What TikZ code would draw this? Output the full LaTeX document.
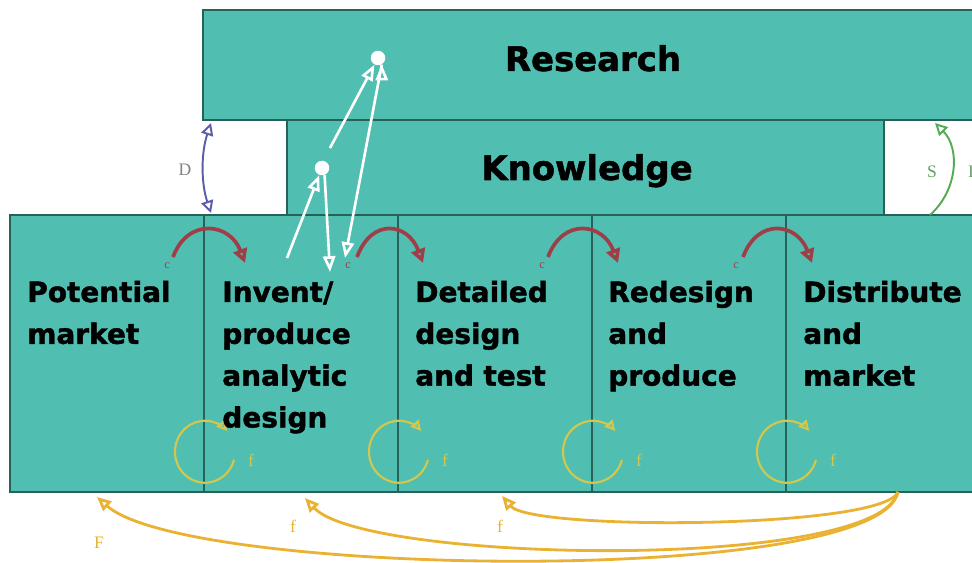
\documentclass[tikz,border=0pt]{standalone}
\usepackage{fontspec}
\setmainfont{DejaVu Sans}[BoldFeatures={FakeBold=1.5}]
\newfontfamily\markfont{Liberation Serif}
\usepackage{tikz}
\usetikzlibrary{arrows,arrows.meta}
\definecolor{cellfill}{RGB}{80,190,177}
\definecolor{cellline}{RGB}{38,98,90}
\definecolor{chainred}{RGB}{160,62,72}
\definecolor{loopyellow}{RGB}{210,200,78}
\definecolor{fbgold}{RGB}{234,178,50}
\definecolor{dblue}{RGB}{92,92,170}
\definecolor{sgreen}{RGB}{84,172,84}
\definecolor{markgray}{RGB}{130,130,130}

\begin{document}
\begin{tikzpicture}[x=0.02cm, y=-0.02cm,
	box/.style={fill=cellfill, draw=cellline, line width=1.1pt},
	stage/.style={anchor=base west, inner sep=0, text width=3.6cm, align=left, font=\bfseries\fontsize{15.9}{23.8}\selectfont},
	heading/.style={anchor=base, inner sep=0, font=\bfseries\fontsize{19.3}{23}\selectfont},
	tag/.style={inner sep=0, font=\markfont\fontsize{10}{11}\selectfont},
	ctag/.style={inner sep=0, text=chainred, font=\markfont\fontsize{7}{8}\selectfont},
	chain/.style={draw=chainred, line width=2.1pt, -{Triangle[open, length=8pt, width=8pt]}},
	fbloop/.style={draw=loopyellow, line width=1.2pt, -{Triangle[open, length=6pt, width=6pt]}},
	feedback/.style={draw=fbgold, line width=1.6pt, -{Triangle[open, length=8pt, width=7pt]}},
	kr/.style={draw=white, line width=1.5pt, -{Triangle[open, length=9pt, width=7pt]}},
	dot/.style={circle, fill=white, inner sep=0, minimum size=0.29cm}
]
\useasboundingbox (0,0) rectangle (972,563);

% blocks
\draw[box] (203,10) rectangle (990,120);
\draw[box] (287,120) rectangle (884,215);
\draw[box] (10,215) rectangle (990,492);
\draw[cellline, line width=0.8pt] (204,215) -- (204,492) (398,215) -- (398,492)
	(592,215) -- (592,492) (786,215) -- (786,492);

\node[heading] (research) at (593,71) {Research};
\node[heading] (knowledge) at (587,180) {Knowledge};

% feedback loops
\coordinate (l1) at (205,452);
\coordinate (l2) at (399,452);
\coordinate (l3) at (593,452);
\coordinate (l4) at (787,452);
\draw[fbloop] (l1) ++(15:30) arc[start angle=15, end angle=318, x radius=30, y radius=31];
\draw[fbloop] (l2) ++(15:30) arc[start angle=15, end angle=318, x radius=30, y radius=31];
\draw[fbloop] (l3) ++(15:30) arc[start angle=15, end angle=318, x radius=30, y radius=31];
\draw[fbloop] (l4) ++(15:30) arc[start angle=15, end angle=318, x radius=30, y radius=31];
\node[tag, text=loopyellow] at (251,460) {f};
\node[tag, text=loopyellow] at (445,460) {f};
\node[tag, text=loopyellow] at (639,460) {f};
\node[tag, text=loopyellow] at (833,460) {f};

\node[stage] (market) at (27,302) {Potential\\market};
\node[stage] (invent) at (222,302) {Invent/\\produce\\analytic\\design};
\node[stage] (detail) at (415,302) {Detailed\\design\\and test};
\node[stage] (redesign) at (608,302) {Redesign\\and\\produce};
\node[stage] (distrib) at (803,302) {Distribute\\and\\market};

% central chain
\coordinate (c1a) at (173,257); \coordinate (c1b) at (245,263);
\coordinate (c2a) at (357,257); \coordinate (c2b) at (423,263);
\coordinate (c3a) at (548,257); \coordinate (c3b) at (618,263);
\coordinate (c4a) at (743,257); \coordinate (c4b) at (812,263);
\draw[chain] (c1a) .. controls +(15,-40) and +(-15,-40) .. (c1b);
\draw[chain] (c2a) .. controls +(15,-40) and +(-15,-40) .. (c2b);
\draw[chain] (c3a) .. controls +(15,-40) and +(-15,-40) .. (c3b);
\draw[chain] (c4a) .. controls +(15,-40) and +(-15,-40) .. (c4b);
\node[ctag] at (167,266) {c};
\node[ctag] at (348,266) {c};
\node[ctag] at (542,266) {c};
\node[ctag] at (736,266) {c};

% links to knowledge and research
\node[dot] (kdot) at (322,168) {};
\node[dot] (rdot) at (378,58) {};
\coordinate (w1) at (287,258);
\coordinate (w2) at (330,272);
\coordinate (w3) at (330,148);
\coordinate (w4) at (345,258);
\path[kr]
(w1) edge (kdot)
(kdot.-70) edge (w2)
(w3) edge (rdot)
(rdot.-60) edge (w4);

% D and S
\coordinate (d1) at (211,123);
\coordinate (d2) at (211,213);
\draw[draw=dblue, line width=1.1pt, {Triangle[open, length=7pt, width=7pt]}-{Triangle[open, length=7pt, width=7pt]}]
	(d1) .. controls +(-10,30) and +(-10,-30) .. (d2);
\node[tag, text=markgray] at (185,170) {D};
\coordinate (s1) at (930,215);
\coordinate (s2) at (935,123);
\draw[draw=sgreen, line width=1.1pt, -{Triangle[open, length=7pt, width=7pt]}]
	(s1) .. controls +(28,-25) and +(25,25) .. (s2);
\node[tag, text=sgreen!70!gray] at (932,172) {S};
\node[tag, text=sgreen!70!gray] at (971,172) {I};

% long feedback
\coordinate (fsrc) at (898,492);
\coordinate (f1) at (97,497);
\coordinate (f2) at (305,498);
\coordinate (f3) at (502,496);
\draw[feedback] (fsrc) .. controls +(-20,95) and +(90,80) .. (f1);
\draw[feedback] (fsrc) .. controls +(-20,80) and +(60,65) .. (f2);
\draw[feedback] (fsrc) .. controls +(-15,37) and +(30,35) .. (f3);
\node[tag, text=fbgold] at (99,543) {F};
\node[tag, text=fbgold] at (293,526) {f};
\node[tag, text=fbgold] at (500,526) {f};
\end{tikzpicture}
\end{document}
